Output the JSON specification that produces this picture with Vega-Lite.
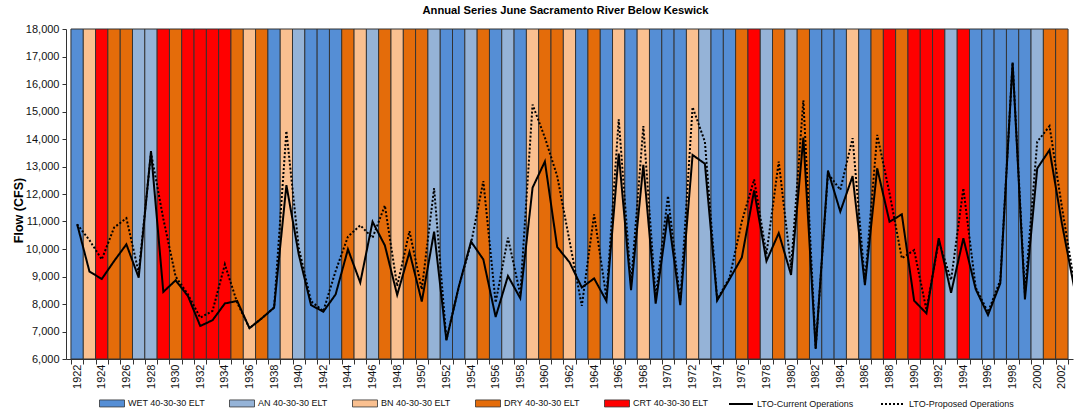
{
  "$schema": "https://vega.github.io/schema/vega-lite/v6.json",
  "width": 1007,
  "height": 330,
  "autosize": {"type": "none"},
  "padding": {"left": 66, "top": 29, "right": 1, "bottom": 50},
  "background": "white",
  "title": {"text": "Annual Series June Sacramento River Below Keswick", "fontSize": 11.2, "fontWeight": "bold", "color": "#000", "offset": 7, "dx": -4, "anchor": "middle"},
  "datasets": {
    "types": [
      {"year": 1922, "type": "WET"}, {"year": 1923, "type": "BN"}, {"year": 1924, "type": "CRT"}, {"year": 1925, "type": "DRY"},
      {"year": 1926, "type": "DRY"}, {"year": 1927, "type": "AN"}, {"year": 1928, "type": "AN"}, {"year": 1929, "type": "CRT"},
      {"year": 1930, "type": "DRY"}, {"year": 1931, "type": "CRT"}, {"year": 1932, "type": "CRT"}, {"year": 1933, "type": "CRT"},
      {"year": 1934, "type": "CRT"}, {"year": 1935, "type": "DRY"}, {"year": 1936, "type": "BN"}, {"year": 1937, "type": "DRY"},
      {"year": 1938, "type": "WET"}, {"year": 1939, "type": "BN"}, {"year": 1940, "type": "AN"}, {"year": 1941, "type": "WET"},
      {"year": 1942, "type": "WET"}, {"year": 1943, "type": "WET"}, {"year": 1944, "type": "DRY"}, {"year": 1945, "type": "BN"},
      {"year": 1946, "type": "AN"}, {"year": 1947, "type": "DRY"}, {"year": 1948, "type": "BN"}, {"year": 1949, "type": "DRY"},
      {"year": 1950, "type": "DRY"}, {"year": 1951, "type": "AN"}, {"year": 1952, "type": "WET"}, {"year": 1953, "type": "WET"},
      {"year": 1954, "type": "AN"}, {"year": 1955, "type": "DRY"}, {"year": 1956, "type": "WET"}, {"year": 1957, "type": "AN"},
      {"year": 1958, "type": "WET"}, {"year": 1959, "type": "BN"}, {"year": 1960, "type": "DRY"}, {"year": 1961, "type": "DRY"},
      {"year": 1962, "type": "BN"}, {"year": 1963, "type": "WET"}, {"year": 1964, "type": "DRY"}, {"year": 1965, "type": "WET"},
      {"year": 1966, "type": "BN"}, {"year": 1967, "type": "WET"}, {"year": 1968, "type": "BN"}, {"year": 1969, "type": "WET"},
      {"year": 1970, "type": "WET"}, {"year": 1971, "type": "WET"}, {"year": 1972, "type": "BN"}, {"year": 1973, "type": "AN"},
      {"year": 1974, "type": "WET"}, {"year": 1975, "type": "WET"}, {"year": 1976, "type": "DRY"}, {"year": 1977, "type": "CRT"},
      {"year": 1978, "type": "AN"}, {"year": 1979, "type": "DRY"}, {"year": 1980, "type": "AN"}, {"year": 1981, "type": "DRY"},
      {"year": 1982, "type": "WET"}, {"year": 1983, "type": "WET"}, {"year": 1984, "type": "WET"}, {"year": 1985, "type": "BN"},
      {"year": 1986, "type": "WET"}, {"year": 1987, "type": "DRY"}, {"year": 1988, "type": "CRT"}, {"year": 1989, "type": "DRY"},
      {"year": 1990, "type": "CRT"}, {"year": 1991, "type": "CRT"}, {"year": 1992, "type": "CRT"}, {"year": 1993, "type": "AN"},
      {"year": 1994, "type": "CRT"}, {"year": 1995, "type": "WET"}, {"year": 1996, "type": "WET"}, {"year": 1997, "type": "WET"},
      {"year": 1998, "type": "WET"}, {"year": 1999, "type": "WET"}, {"year": 2000, "type": "AN"}, {"year": 2001, "type": "DRY"},
      {"year": 2002, "type": "DRY"}
    ],
    "flows": [
      {"year": 1922, "series": "LTO-Current Operations", "flow": 10900},
      {"year": 1923, "series": "LTO-Current Operations", "flow": 9180},
      {"year": 1924, "series": "LTO-Current Operations", "flow": 8910},
      {"year": 1925, "series": "LTO-Current Operations", "flow": 9560},
      {"year": 1926, "series": "LTO-Current Operations", "flow": 10170},
      {"year": 1927, "series": "LTO-Current Operations", "flow": 8960},
      {"year": 1928, "series": "LTO-Current Operations", "flow": 13560},
      {"year": 1929, "series": "LTO-Current Operations", "flow": 8440},
      {"year": 1930, "series": "LTO-Current Operations", "flow": 8860},
      {"year": 1931, "series": "LTO-Current Operations", "flow": 8290},
      {"year": 1932, "series": "LTO-Current Operations", "flow": 7200},
      {"year": 1933, "series": "LTO-Current Operations", "flow": 7410},
      {"year": 1934, "series": "LTO-Current Operations", "flow": 8020},
      {"year": 1935, "series": "LTO-Current Operations", "flow": 8110},
      {"year": 1936, "series": "LTO-Current Operations", "flow": 7120},
      {"year": 1937, "series": "LTO-Current Operations", "flow": 7480},
      {"year": 1938, "series": "LTO-Current Operations", "flow": 7870},
      {"year": 1939, "series": "LTO-Current Operations", "flow": 12320},
      {"year": 1940, "series": "LTO-Current Operations", "flow": 9810},
      {"year": 1941, "series": "LTO-Current Operations", "flow": 7960},
      {"year": 1942, "series": "LTO-Current Operations", "flow": 7720},
      {"year": 1943, "series": "LTO-Current Operations", "flow": 8350},
      {"year": 1944, "series": "LTO-Current Operations", "flow": 9990},
      {"year": 1945, "series": "LTO-Current Operations", "flow": 8780},
      {"year": 1946, "series": "LTO-Current Operations", "flow": 10990},
      {"year": 1947, "series": "LTO-Current Operations", "flow": 10130},
      {"year": 1948, "series": "LTO-Current Operations", "flow": 8330},
      {"year": 1949, "series": "LTO-Current Operations", "flow": 9890},
      {"year": 1950, "series": "LTO-Current Operations", "flow": 8090},
      {"year": 1951, "series": "LTO-Current Operations", "flow": 10630},
      {"year": 1952, "series": "LTO-Current Operations", "flow": 6680},
      {"year": 1953, "series": "LTO-Current Operations", "flow": 8620},
      {"year": 1954, "series": "LTO-Current Operations", "flow": 10270},
      {"year": 1955, "series": "LTO-Current Operations", "flow": 9620},
      {"year": 1956, "series": "LTO-Current Operations", "flow": 7530},
      {"year": 1957, "series": "LTO-Current Operations", "flow": 9020},
      {"year": 1958, "series": "LTO-Current Operations", "flow": 8210},
      {"year": 1959, "series": "LTO-Current Operations", "flow": 12230},
      {"year": 1960, "series": "LTO-Current Operations", "flow": 13180},
      {"year": 1961, "series": "LTO-Current Operations", "flow": 10070},
      {"year": 1962, "series": "LTO-Current Operations", "flow": 9520},
      {"year": 1963, "series": "LTO-Current Operations", "flow": 8600},
      {"year": 1964, "series": "LTO-Current Operations", "flow": 8930},
      {"year": 1965, "series": "LTO-Current Operations", "flow": 8110},
      {"year": 1966, "series": "LTO-Current Operations", "flow": 13470},
      {"year": 1967, "series": "LTO-Current Operations", "flow": 8500},
      {"year": 1968, "series": "LTO-Current Operations", "flow": 13060},
      {"year": 1969, "series": "LTO-Current Operations", "flow": 8010},
      {"year": 1970, "series": "LTO-Current Operations", "flow": 11260},
      {"year": 1971, "series": "LTO-Current Operations", "flow": 7960},
      {"year": 1972, "series": "LTO-Current Operations", "flow": 13420},
      {"year": 1973, "series": "LTO-Current Operations", "flow": 13100},
      {"year": 1974, "series": "LTO-Current Operations", "flow": 8130},
      {"year": 1975, "series": "LTO-Current Operations", "flow": 8900},
      {"year": 1976, "series": "LTO-Current Operations", "flow": 9690},
      {"year": 1977, "series": "LTO-Current Operations", "flow": 12130},
      {"year": 1978, "series": "LTO-Current Operations", "flow": 9560},
      {"year": 1979, "series": "LTO-Current Operations", "flow": 10580},
      {"year": 1980, "series": "LTO-Current Operations", "flow": 9060},
      {"year": 1981, "series": "LTO-Current Operations", "flow": 14050},
      {"year": 1982, "series": "LTO-Current Operations", "flow": 6370},
      {"year": 1983, "series": "LTO-Current Operations", "flow": 12850},
      {"year": 1984, "series": "LTO-Current Operations", "flow": 11360},
      {"year": 1985, "series": "LTO-Current Operations", "flow": 12650},
      {"year": 1986, "series": "LTO-Current Operations", "flow": 8690},
      {"year": 1987, "series": "LTO-Current Operations", "flow": 12930},
      {"year": 1988, "series": "LTO-Current Operations", "flow": 10990},
      {"year": 1989, "series": "LTO-Current Operations", "flow": 11260},
      {"year": 1990, "series": "LTO-Current Operations", "flow": 8120},
      {"year": 1991, "series": "LTO-Current Operations", "flow": 7660},
      {"year": 1992, "series": "LTO-Current Operations", "flow": 10390},
      {"year": 1993, "series": "LTO-Current Operations", "flow": 8410},
      {"year": 1994, "series": "LTO-Current Operations", "flow": 10390},
      {"year": 1995, "series": "LTO-Current Operations", "flow": 8540},
      {"year": 1996, "series": "LTO-Current Operations", "flow": 7600},
      {"year": 1997, "series": "LTO-Current Operations", "flow": 8750},
      {"year": 1998, "series": "LTO-Current Operations", "flow": 16780},
      {"year": 1999, "series": "LTO-Current Operations", "flow": 8170},
      {"year": 2000, "series": "LTO-Current Operations", "flow": 12930},
      {"year": 2001, "series": "LTO-Current Operations", "flow": 13600},
      {"year": 2002, "series": "LTO-Current Operations", "flow": 10940},
      {"year": 2003, "series": "LTO-Current Operations", "flow": 8600},
      {"year": 1922, "series": "LTO-Proposed Operations", "flow": 10900},
      {"year": 1923, "series": "LTO-Proposed Operations", "flow": 10320},
      {"year": 1924, "series": "LTO-Proposed Operations", "flow": 9620},
      {"year": 1925, "series": "LTO-Proposed Operations", "flow": 10780},
      {"year": 1926, "series": "LTO-Proposed Operations", "flow": 11120},
      {"year": 1927, "series": "LTO-Proposed Operations", "flow": 9140},
      {"year": 1928, "series": "LTO-Proposed Operations", "flow": 13500},
      {"year": 1929, "series": "LTO-Proposed Operations", "flow": 11100},
      {"year": 1930, "series": "LTO-Proposed Operations", "flow": 9000},
      {"year": 1931, "series": "LTO-Proposed Operations", "flow": 8350},
      {"year": 1932, "series": "LTO-Proposed Operations", "flow": 7500},
      {"year": 1933, "series": "LTO-Proposed Operations", "flow": 7750},
      {"year": 1934, "series": "LTO-Proposed Operations", "flow": 9440},
      {"year": 1935, "series": "LTO-Proposed Operations", "flow": 8050},
      {"year": 1936, "series": "LTO-Proposed Operations", "flow": 7120},
      {"year": 1937, "series": "LTO-Proposed Operations", "flow": 7480},
      {"year": 1938, "series": "LTO-Proposed Operations", "flow": 7870},
      {"year": 1939, "series": "LTO-Proposed Operations", "flow": 14290},
      {"year": 1940, "series": "LTO-Proposed Operations", "flow": 10050},
      {"year": 1941, "series": "LTO-Proposed Operations", "flow": 8100},
      {"year": 1942, "series": "LTO-Proposed Operations", "flow": 7740},
      {"year": 1943, "series": "LTO-Proposed Operations", "flow": 9200},
      {"year": 1944, "series": "LTO-Proposed Operations", "flow": 10450},
      {"year": 1945, "series": "LTO-Proposed Operations", "flow": 10860},
      {"year": 1946, "series": "LTO-Proposed Operations", "flow": 10410},
      {"year": 1947, "series": "LTO-Proposed Operations", "flow": 11580},
      {"year": 1948, "series": "LTO-Proposed Operations", "flow": 8650},
      {"year": 1949, "series": "LTO-Proposed Operations", "flow": 10650},
      {"year": 1950, "series": "LTO-Proposed Operations", "flow": 8530},
      {"year": 1951, "series": "LTO-Proposed Operations", "flow": 12210},
      {"year": 1952, "series": "LTO-Proposed Operations", "flow": 6700},
      {"year": 1953, "series": "LTO-Proposed Operations", "flow": 8620},
      {"year": 1954, "series": "LTO-Proposed Operations", "flow": 10200},
      {"year": 1955, "series": "LTO-Proposed Operations", "flow": 12470},
      {"year": 1956, "series": "LTO-Proposed Operations", "flow": 8050},
      {"year": 1957, "series": "LTO-Proposed Operations", "flow": 10410},
      {"year": 1958, "series": "LTO-Proposed Operations", "flow": 8350},
      {"year": 1959, "series": "LTO-Proposed Operations", "flow": 15250},
      {"year": 1960, "series": "LTO-Proposed Operations", "flow": 14050},
      {"year": 1961, "series": "LTO-Proposed Operations", "flow": 12650},
      {"year": 1962, "series": "LTO-Proposed Operations", "flow": 10300},
      {"year": 1963, "series": "LTO-Proposed Operations", "flow": 7930},
      {"year": 1964, "series": "LTO-Proposed Operations", "flow": 11260},
      {"year": 1965, "series": "LTO-Proposed Operations", "flow": 8230},
      {"year": 1966, "series": "LTO-Proposed Operations", "flow": 14720},
      {"year": 1967, "series": "LTO-Proposed Operations", "flow": 8720},
      {"year": 1968, "series": "LTO-Proposed Operations", "flow": 14470},
      {"year": 1969, "series": "LTO-Proposed Operations", "flow": 8230},
      {"year": 1970, "series": "LTO-Proposed Operations", "flow": 11930},
      {"year": 1971, "series": "LTO-Proposed Operations", "flow": 8110},
      {"year": 1972, "series": "LTO-Proposed Operations", "flow": 15160},
      {"year": 1973, "series": "LTO-Proposed Operations", "flow": 13900},
      {"year": 1974, "series": "LTO-Proposed Operations", "flow": 8170},
      {"year": 1975, "series": "LTO-Proposed Operations", "flow": 8950},
      {"year": 1976, "series": "LTO-Proposed Operations", "flow": 11000},
      {"year": 1977, "series": "LTO-Proposed Operations", "flow": 12530},
      {"year": 1978, "series": "LTO-Proposed Operations", "flow": 9810},
      {"year": 1979, "series": "LTO-Proposed Operations", "flow": 13180},
      {"year": 1980, "series": "LTO-Proposed Operations", "flow": 9320},
      {"year": 1981, "series": "LTO-Proposed Operations", "flow": 15410},
      {"year": 1982, "series": "LTO-Proposed Operations", "flow": 6400},
      {"year": 1983, "series": "LTO-Proposed Operations", "flow": 12750},
      {"year": 1984, "series": "LTO-Proposed Operations", "flow": 12150},
      {"year": 1985, "series": "LTO-Proposed Operations", "flow": 14030},
      {"year": 1986, "series": "LTO-Proposed Operations", "flow": 8800},
      {"year": 1987, "series": "LTO-Proposed Operations", "flow": 14150},
      {"year": 1988, "series": "LTO-Proposed Operations", "flow": 12030},
      {"year": 1989, "series": "LTO-Proposed Operations", "flow": 9660},
      {"year": 1990, "series": "LTO-Proposed Operations", "flow": 9960},
      {"year": 1991, "series": "LTO-Proposed Operations", "flow": 7780},
      {"year": 1992, "series": "LTO-Proposed Operations", "flow": 10300},
      {"year": 1993, "series": "LTO-Proposed Operations", "flow": 8870},
      {"year": 1994, "series": "LTO-Proposed Operations", "flow": 12210},
      {"year": 1995, "series": "LTO-Proposed Operations", "flow": 8600},
      {"year": 1996, "series": "LTO-Proposed Operations", "flow": 7700},
      {"year": 1997, "series": "LTO-Proposed Operations", "flow": 8870},
      {"year": 1998, "series": "LTO-Proposed Operations", "flow": 16780},
      {"year": 1999, "series": "LTO-Proposed Operations", "flow": 8400},
      {"year": 2000, "series": "LTO-Proposed Operations", "flow": 13900},
      {"year": 2001, "series": "LTO-Proposed Operations", "flow": 14470},
      {"year": 2002, "series": "LTO-Proposed Operations", "flow": 11540},
      {"year": 2003, "series": "LTO-Proposed Operations", "flow": 8800}
    ]
  },
  "layer": [
    {
      "data": {"name": "types"},
      "mark": {"type": "bar", "width": 12.432, "stroke": "#333333", "strokeWidth": 1},
      "encoding": {
        "x": {
          "field": "year", "type": "quantitative",
          "scale": {"domain": [1921.5, 2002.5], "nice": false, "zero": false},
          "axis": {
            "orient": "bottom",
            "values": [1922,1924,1926,1928,1930,1932,1934,1936,1938,1940,1942,1944,1946,1948,1950,1952,1954,1956,1958,1960,1962,1964,1966,1968,1970,1972,1974,1976,1978,1980,1982,1984,1986,1988,1990,1992,1994,1996,1998,2000,2002],
            "format": "d", "labelAngle": -90, "ticks": false, "title": null, "grid": false,
            "labelFontSize": 11, "labelPadding": 5, "labelColor": "#111", "domainColor": "#333", "labelFlush": false, "labelOverlap": false
          }
        },
        "y": {
          "datum": 18000, "type": "quantitative",
          "scale": {"domain": [6000, 18000], "nice": false, "zero": false},
          "axis": {
            "values": [6000,7000,8000,9000,10000,11000,12000,13000,14000,15000,16000,17000,18000],
            "format": ",d", "title": "Flow (CFS)", "grid": false,
            "labelFontSize": 11, "labelColor": "#111", "tickSize": 4, "labelPadding": 3, "tickColor": "#333", "domainColor": "#333",
            "titleFontSize": 12.5, "titleFontWeight": "bold", "titleColor": "#000", "titleX": -48, "titleY": 181, "titleAngle": -90, "titleAlign": "center", "titleBaseline": "middle"
          }
        },
        "y2": {"datum": 6000},
        "fill": {
          "field": "type", "type": "nominal",
          "scale": {"domain": ["WET", "AN", "BN", "DRY", "CRT"], "range": ["#558ED5", "#95B3D7", "#FAC090", "#E46C0A", "#FF0000"]},
          "legend": {
            "orient": "none", "legendX": 33, "legendY": 361, "direction": "horizontal", "title": null,
            "symbolType": "M-1,-0.28H1V0.28H-1Z", "symbolSize": 625, "symbolStrokeColor": "#333", "symbolStrokeWidth": 0.8,
            "labelFontSize": 9, "labelOffset": 3, "columnPadding": 22, "padding": 0, "labelColor": "#111",
            "labelExpr": "datum.label + ' 40-30-30 ELT'"
          }
        }
      }
    },
    {
      "data": {"name": "flows"},
      "mark": {"type": "line", "clip": true, "color": "black", "strokeWidth": 2},
      "encoding": {
        "x": {
          "field": "year", "type": "quantitative",
          "axis": {
            "orient": "bottom",
            "values": [1921.5,1922.5,1923.5,1924.5,1925.5,1926.5,1927.5,1928.5,1929.5,1930.5,1931.5,1932.5,1933.5,1934.5,1935.5,1936.5,1937.5,1938.5,1939.5,1940.5,1941.5,1942.5,1943.5,1944.5,1945.5,1946.5,1947.5,1948.5,1949.5,1950.5,1951.5,1952.5,1953.5,1954.5,1955.5,1956.5,1957.5,1958.5,1959.5,1960.5,1961.5,1962.5,1963.5,1964.5,1965.5,1966.5,1967.5,1968.5,1969.5,1970.5,1971.5,1972.5,1973.5,1974.5,1975.5,1976.5,1977.5,1978.5,1979.5,1980.5,1981.5,1982.5,1983.5,1984.5,1985.5,1986.5,1987.5,1988.5,1989.5,1990.5,1991.5,1992.5,1993.5,1994.5,1995.5,1996.5,1997.5,1998.5,1999.5,2000.5,2001.5,2002.5],
            "labels": false, "domain": false, "tickSize": 5, "tickColor": "#333", "title": null, "grid": false
          }
        },
        "y": {
          "field": "flow", "type": "quantitative",
          "axis": {
            "values": [6000,7000,8000,9000,10000,11000,12000,13000,14000,15000,16000,17000,18000],
            "format": ",d", "title": "Flow (CFS)", "grid": false,
            "labelFontSize": 11, "labelColor": "#111", "tickSize": 4, "labelPadding": 3, "tickColor": "#333", "domainColor": "#333",
            "titleFontSize": 12.5, "titleFontWeight": "bold", "titleColor": "#000", "titleX": -48, "titleY": 181, "titleAngle": -90, "titleAlign": "center", "titleBaseline": "middle"
          }
        },
        "strokeDash": {
          "field": "series", "type": "nominal",
          "scale": {"domain": ["LTO-Current Operations", "LTO-Proposed Operations"], "range": [[1, 0], [2, 2]]},
          "legend": {
            "orient": "none", "legendX": 662, "legendY": 362, "direction": "horizontal", "title": null,
            "symbolType": "stroke", "symbolSize": 576, "symbolStrokeColor": "black", "symbolStrokeWidth": 2,
            "labelFontSize": 9, "labelOffset": 3, "columnPadding": 23, "padding": 0, "labelColor": "#111"
          }
        }
      }
    }
  ],
  "resolve": {"axis": {"x": "independent"}},
  "config": {
    "font": "Liberation Sans",
    "view": {"stroke": null}
  }
}
